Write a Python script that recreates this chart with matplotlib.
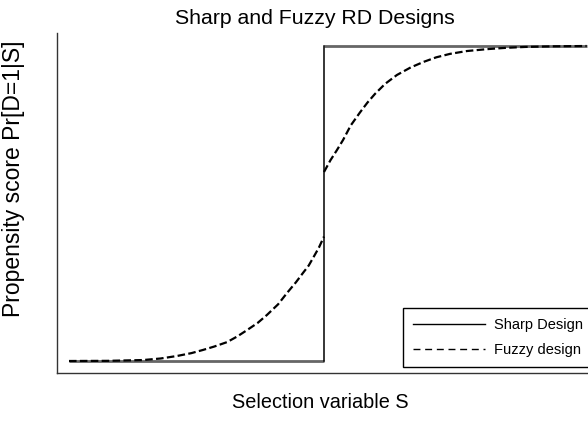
import matplotlib
matplotlib.use("Agg")
import matplotlib.pyplot as plt
from matplotlib.lines import Line2D

plt.rcParams['font.family'] = ['Liberation Sans', 'DejaVu Sans']

# Sharp design: treatment switches from 0 to 1 at the cutoff S = 0
sharp_x = [-1.0, 0.0, 0.0, 1.03]
sharp_y = [0.0, 0.0, 1.0, 1.0]

# Fuzzy design: probability rises smoothly, with a jump at the cutoff
fuzzy_left_x = [-1.0, -0.85, -0.71, -0.64, -0.576, -0.52, -0.475, -0.43,
                -0.38, -0.34, -0.302, -0.26, -0.224, -0.18, -0.145, -0.11,
                -0.082, -0.06, -0.043, -0.02, 0.0]
fuzzy_left_y = [0.0, 0.0005, 0.003, 0.008, 0.016, 0.025, 0.035, 0.046,
                0.060, 0.078, 0.098, 0.121, 0.146, 0.180, 0.216, 0.250,
                0.280, 0.303, 0.327, 0.360, 0.395]
fuzzy_right_x = [0.0, 0.025, 0.051, 0.075, 0.105, 0.141, 0.17, 0.200,
                 0.24, 0.286, 0.34, 0.392, 0.44, 0.494, 0.56, 0.639,
                 0.71, 0.788, 0.9, 1.03]
fuzzy_right_y = [0.600, 0.637, 0.670, 0.702, 0.748, 0.789, 0.820, 0.848,
                 0.880, 0.908, 0.932, 0.950, 0.964, 0.975, 0.984, 0.990,
                 0.994, 0.997, 0.999, 1.0]

fig = plt.figure(figsize=(5.88, 4.24), dpi=100)
ax = fig.add_axes([57 / 588, 51 / 424, (600 - 57) / 588, 340 / 424])

ax.plot(sharp_x[:2], sharp_y[:2], color='#666666', lw=2.0, solid_capstyle='butt')
ax.plot(sharp_x[2:], sharp_y[2:], color='#666666', lw=2.0, solid_capstyle='butt')
ax.plot(sharp_x[1:3], sharp_y[1:3], color='black', lw=1.1)

dash = (0, (3.4, 1.5))
ax.plot(fuzzy_left_x, fuzzy_left_y, color='black', lw=1.6, ls=dash)
ax.plot(fuzzy_right_x, fuzzy_right_y, color='black', lw=1.6, ls=dash)

ax.set_xlim(-1 - 12 / 255, (600 - 324) / 255)
ax.set_ylim(-12 / 315, 1 + 13 / 315)
ax.set_xticks([])
ax.set_yticks([])
for side in ('top', 'right'):
    ax.spines[side].set_visible(False)
for side in ('left', 'bottom'):
    ax.spines[side].set_color('#333333')
    ax.spines[side].set_linewidth(1.0)

handles = [Line2D([], [], color='black', lw=1.0),
           Line2D([], [], color='black', lw=1.0, ls=(0, (5, 3.4)))]
leg = fig.legend(handles, ['Sharp Design', 'Fuzzy design'],
                 loc='lower left', bbox_to_anchor=(403 / 588, 57 / 424),
                 bbox_transform=fig.transFigure, borderaxespad=0,
                 fontsize=10.5, handlelength=4.9, handletextpad=0.6,
                 labelspacing=0.74, borderpad=0.71, fancybox=False,
                 framealpha=1, edgecolor='black')
leg.get_frame().set_linewidth(1.0)

fig.text(315 / 588, 1 - 19 / 424, 'Sharp and Fuzzy RD Designs',
         ha='center', va='center', fontsize=15.3)
fig.text(320 / 588, 21 / 424, 'Selection variable S',
         ha='center', va='center', fontsize=14.3)
fig.text(14 / 588, 1 - 179 / 424, 'Propensity score Pr[D=1|S]',
         ha='center', va='center', rotation=90, fontsize=16.5)

fig.savefig('out.png', dpi=100)
